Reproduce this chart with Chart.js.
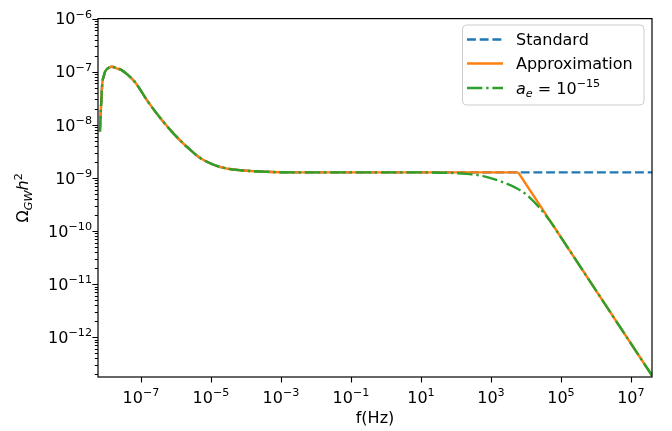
<!DOCTYPE html>
<html lang="en">
<head>
<meta charset="UTF-8">
<title>GW spectrum</title>
<script src="https://cdn.jsdelivr.net/npm/chart.js"></script>
<style>
  html, body { margin: 0; padding: 0; background: #fff; }
  #wrap { width: 672px; height: 431px; }
</style>
</head>
<body>
<div id="wrap"><canvas id="chart" width="672" height="431"></canvas></div>
<script>
// values (f in Hz, Omega_GW h^2)
const freqLow = [6.7e-9, 7.2e-9, 7.8e-9, 8.6e-9, 9.4e-9, 1.15e-8, 1.46e-8, 2.0e-8, 2.8e-8, 4.3e-8,
                 6.7e-8, 1.6e-7, 3.9e-7, 8.4e-7, 2.0e-6, 4.9e-6, 1.16e-5, 2.8e-5, 8.4e-5, 2.5e-4,
                 9.3e-4, 1e-2, 1e-1, 1, 10];
const omegaLow = [7.5e-9, 2.2e-8, 5.9e-8, 8.2e-8, 1.0e-7, 1.17e-7, 1.24e-7, 1.16e-7, 1.07e-7, 8.6e-8,
                  6.4e-8, 2.7e-8, 1.24e-8, 6.9e-9, 3.9e-9, 2.37e-9, 1.78e-9, 1.5e-9, 1.38e-9, 1.32e-9,
                  1.28e-9, 1.27e-9, 1.27e-9, 1.27e-9, 1.27e-9];

// standard: stays flat up to the right edge
const freqStdTail = [100, 1e3, 6e3, 1e5, 1e6, 1e7, 4e7];
const omegaStdTail = [1.27e-9, 1.27e-9, 1.27e-9, 1.27e-9, 1.27e-9, 1.27e-9, 1.27e-9];

// approximation: flat to the knee, then a straight f^-1 drop
const freqApproxTail = [100, 1e3, 6e3];
const omegaApproxTail = [1.27e-9, 1.27e-9, 1.27e-9];
const freqApproxSlope = [6e3, 4e7];
const omegaApproxSlope = [1.27e-9, 1.9e-13];

// a_e = 1e-15: smooth roll-off
const freqAeTail = [200, 600, 1.8e3, 5.4e3, 1.05e4, 2.5e4, 4.85e4, 1e5, 1e6, 1e7, 4e7];
const omegaAeTail = [1.19e-9, 1.08e-9, 8.7e-10, 6.4e-10, 4.8e-10, 2.7e-10, 1.55e-10, 7.6e-11, 7.6e-12, 7.6e-13, 1.9e-13];

const xTickExps = [-7, -5, -3, -1, 1, 3, 5, 7];
const yTickExps = [-12, -11, -10, -9, -8, -7, -6];
const xRange = [5.9e-9, 4.0e7];
const yRange = [1.78e-13, 1e-6];

const FONT = 'DejaVu Sans';
const BIG = '16px ' + FONT;
const SMALL = '11.2px ' + FONT;

function pts(fs, os) {
    return fs.map((f, i) => ({ x: f, y: os[i] }));
}

// "10" with a raised exponent, as pieces
function powPieces(e) {
    return [
        { t: '10', font: BIG },
        { t: String(e).replace('-', '\u2212'), font: SMALL, dy: -6.5 }
    ];
}

// draws a row of text pieces (for sub/superscripts), returns width
function drawPieces(ctx, pieces, x, y, measureOnly) {
    let cx = x;
    pieces.forEach(p => {
        ctx.font = p.font;
        if (!measureOnly) ctx.fillText(p.t, cx, y + (p.dy || 0));
        cx += ctx.measureText(p.t).width;
    });
    return cx - x;
}

const extras = {
    id: 'extras',
    afterDraw(chart) {
        const ctx = chart.ctx;
        const a = chart.chartArea;
        const xs = chart.scales.x, ys = chart.scales.y;
        ctx.save();

        // frame
        ctx.strokeStyle = '#000';
        ctx.lineWidth = 1.2;
        ctx.strokeRect(a.left, a.top, a.right - a.left, a.bottom - a.top);

        // x ticks
        ctx.lineWidth = 1.1;
        ctx.beginPath();
        xTickExps.forEach(e => {
            const px = Math.round(xs.getPixelForValue(Math.pow(10, e))) + 0.5;
            ctx.moveTo(px, a.bottom);
            ctx.lineTo(px, a.bottom + 5.6);
        });
        // y ticks, major and minor
        for (let e = -13; e <= -6; e++) {
            for (let k = 1; k <= 9; k++) {
                const v = k * Math.pow(10, e);
                if (v < yRange[0] || v > yRange[1] * 1.0001) continue;
                const py = Math.round(ys.getPixelForValue(v)) + 0.5;
                const len = k === 1 ? 5.6 : 3.2;
                ctx.moveTo(a.left, py);
                ctx.lineTo(a.left - len, py);
            }
        }
        ctx.stroke();

        // tick labels
        ctx.fillStyle = '#000';
        ctx.textBaseline = 'alphabetic';
        ctx.textAlign = 'left';
        xTickExps.forEach(e => {
            const px = xs.getPixelForValue(Math.pow(10, e));
            const p = powPieces(e);
            const w = drawPieces(ctx, p, 0, 0, true);
            drawPieces(ctx, p, px - w / 2, 402.5);
        });
        yTickExps.forEach(e => {
            const py = ys.getPixelForValue(Math.pow(10, e));
            const p = powPieces(e);
            const w = drawPieces(ctx, p, 0, 0, true);
            drawPieces(ctx, p, 92 - w, py + 5.8);
        });

        // y axis title
        const yTitle = [
            { t: '\u03A9', font: BIG },
            { t: 'GW', font: 'italic ' + SMALL, dy: 3.5 },
            { t: 'h', font: 'italic ' + BIG },
            { t: '2', font: SMALL, dy: -6.5 }
        ];
        ctx.save();
        ctx.translate(28, (a.top + a.bottom) / 2);
        ctx.rotate(-Math.PI / 2);
        const tw = drawPieces(ctx, yTitle, 0, 0, true);
        drawPieces(ctx, yTitle, -tw / 2, 0);
        ctx.restore();

        // legend
        const box = { x: 462.5, y: 25, w: 181.5, h: 80 };
        ctx.beginPath();
        ctx.roundRect(box.x, box.y, box.w, box.h, 4);
        ctx.fillStyle = 'rgba(255,255,255,0.8)';
        ctx.fill();
        ctx.strokeStyle = '#cccccc';
        ctx.lineWidth = 1;
        ctx.stroke();

        const rows = [
            { color: '#1f77b4', dash: [8.9, 3.8], y: 39.5, text: [{ t: 'Standard', font: BIG }] },
            { color: '#ff7f0e', dash: [], y: 63.5, text: [{ t: 'Approximation', font: BIG }] },
            { color: '#2ca02c', dash: [15.4, 3.8, 2.4, 3.8], y: 88, text: [
                { t: 'a', font: 'italic ' + BIG },
                { t: 'e', font: 'italic ' + SMALL, dy: 3.5 },
                { t: ' = 10', font: BIG },
                { t: '\u221215', font: SMALL, dy: -6.5 }
            ] }
        ];
        rows.forEach(r => {
            ctx.beginPath();
            ctx.setLineDash(r.dash);
            ctx.strokeStyle = r.color;
            ctx.lineWidth = 2.4;
            ctx.moveTo(467, r.y);
            ctx.lineTo(503, r.y);
            ctx.stroke();
            ctx.setLineDash([]);
            ctx.fillStyle = '#000';
            drawPieces(ctx, r.text, 516, r.y + 5.8);
        });

        ctx.restore();
    }
};

new Chart(document.getElementById('chart'), {
    type: 'line',
    data: {
        datasets: [
            {
                label: 'Standard',
                data: pts(freqLow.concat(freqStdTail), omegaLow.concat(omegaStdTail)),
                borderColor: '#1f77b4',
                borderWidth: 2.4,
                borderDash: [8.9, 3.8],
                cubicInterpolationMode: 'monotone',
                order: 3
            },
            {
                label: 'Approximation',
                data: pts(freqLow.concat(freqApproxTail), omegaLow.concat(omegaApproxTail)),
                borderColor: '#ff7f0e',
                borderWidth: 2.4,
                cubicInterpolationMode: 'monotone',
                order: 2
            },
            {
                label: 'Approximation (slope)',
                data: pts(freqApproxSlope, omegaApproxSlope),
                borderColor: '#ff7f0e',
                borderWidth: 2.4,
                tension: 0,
                order: 2
            },
            {
                label: 'a_e = 10^-15',
                data: pts(freqLow.concat(freqAeTail), omegaLow.concat(omegaAeTail)),
                borderColor: '#2ca02c',
                borderWidth: 2.4,
                borderDash: [15.4, 3.8, 2.4, 3.8],
                cubicInterpolationMode: 'monotone',
                order: 1
            }
        ]
    },
    options: {
        responsive: false,
        animation: false,
        events: [],
        layout: { padding: { top: 16.5, right: 20, left: 0, bottom: 0 } },
        elements: { point: { radius: 0 }, line: { fill: false, borderCapStyle: 'butt' } },
        plugins: {
            legend: { display: false },
            tooltip: { enabled: false }
        },
        scales: {
            x: {
                type: 'logarithmic',
                min: xRange[0],
                max: xRange[1],
                grid: { display: false, drawTicks: false },
                border: { display: false },
                afterBuildTicks: s => { s.ticks = xTickExps.map(e => ({ value: Math.pow(10, e) })); },
                afterFit: s => { s.height = 54; },
                ticks: {
                    autoSkip: false,
                    maxRotation: 0,
                    padding: 8,
                    color: '#000',
                    font: { family: FONT, size: 16 },
                    callback: () => ''
                },
                title: {
                    display: true,
                    text: 'f(Hz)',
                    color: '#000',
                    font: { family: FONT, size: 16 },
                    padding: { top: 0, bottom: 3 }
                }
            },
            y: {
                type: 'logarithmic',
                min: yRange[0],
                max: yRange[1],
                grid: { display: false, drawTicks: false },
                border: { display: false },
                afterBuildTicks: s => { s.ticks = yTickExps.map(e => ({ value: Math.pow(10, e) })); },
                afterFit: s => { s.width = 98; },
                ticks: {
                    autoSkip: false,
                    padding: 9,
                    color: '#000',
                    font: { family: FONT, size: 16 },
                    callback: () => ''
                }
            }
        }
    },
    plugins: [extras]
});
</script>
</body>
</html>
